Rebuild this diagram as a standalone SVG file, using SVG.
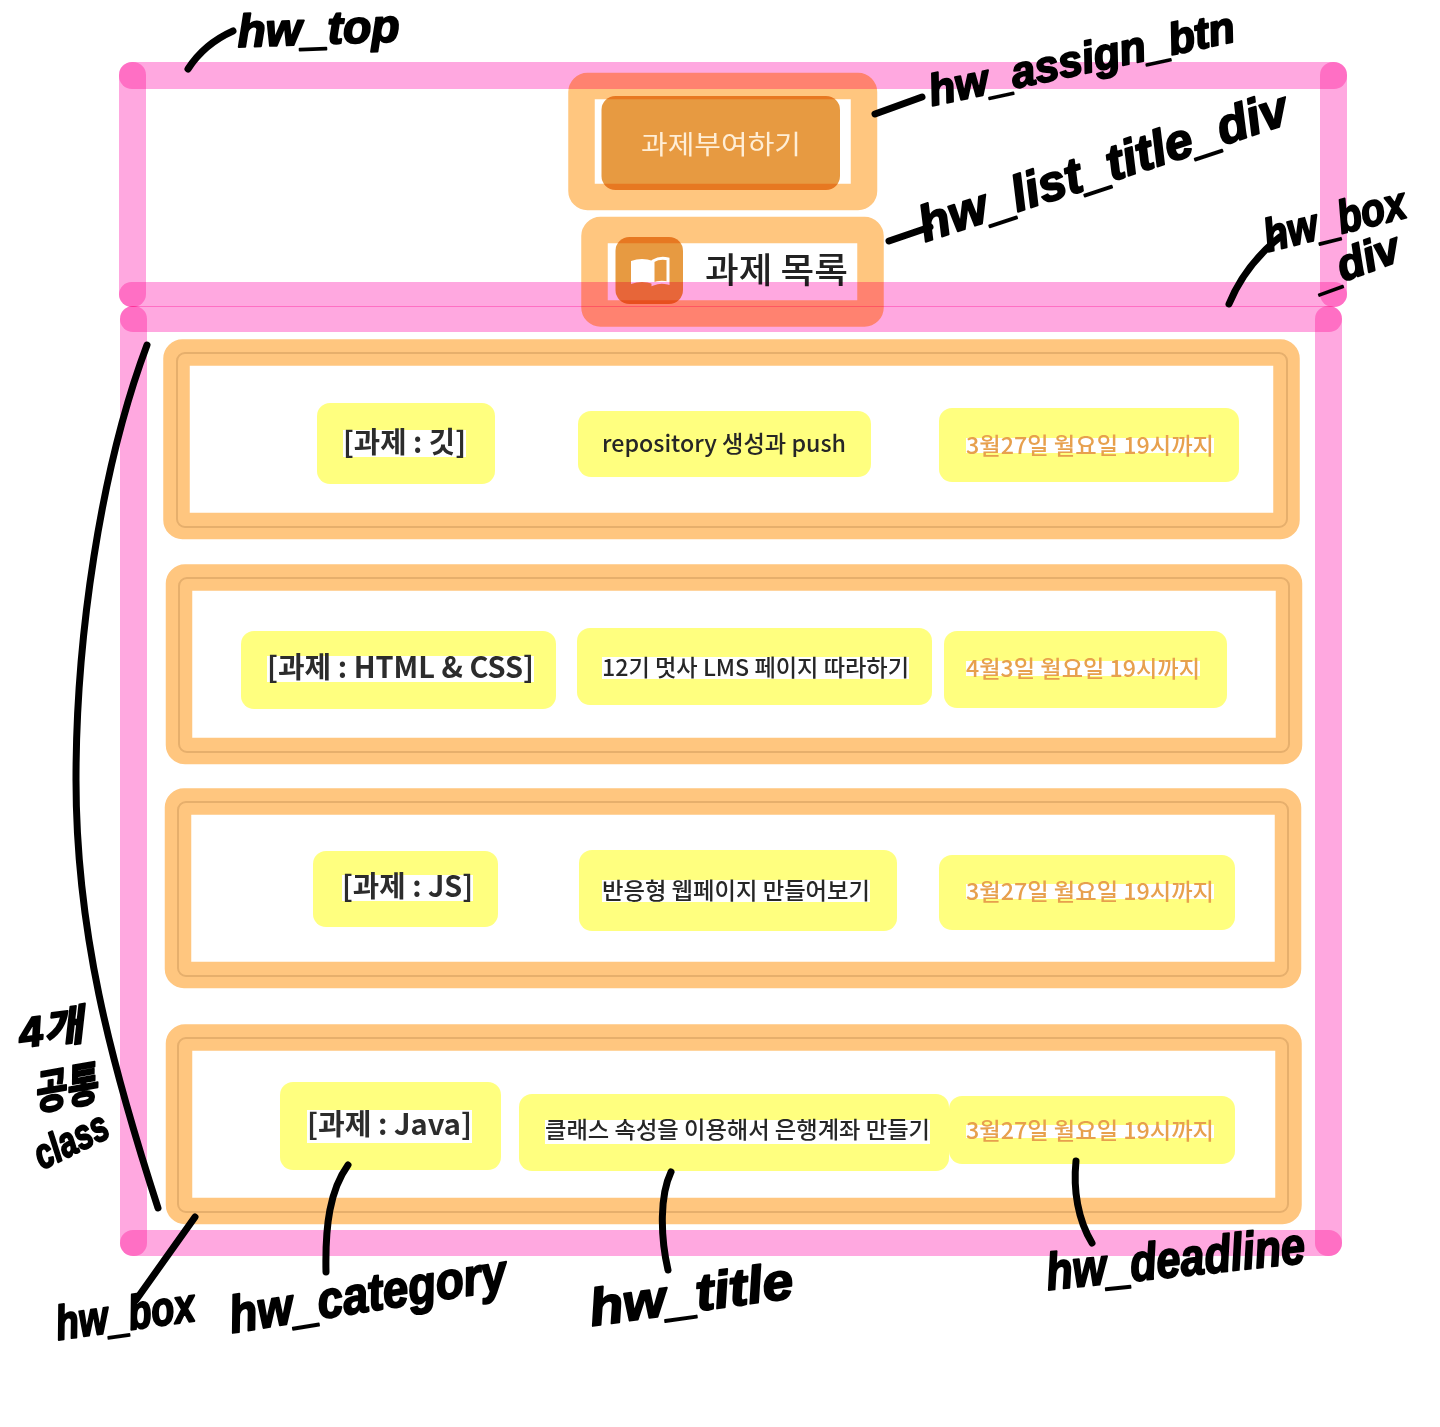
<svg xmlns="http://www.w3.org/2000/svg" width="1440" height="1427" viewBox="0 0 1440 1427">
<style>
.pink{fill:#ffa8e0;mix-blend-mode:multiply}
.orange{fill:none;stroke:#ffc67f;stroke-width:26.5;mix-blend-mode:multiply}
.yellow{fill:#ffff7f}
.gap{fill:#fff}
.rule{fill:none;stroke:#e6e1d8;stroke-width:2}
.t{font-family:"Noto Sans CJK KR","Noto Sans",sans-serif}
.cat{font-size:29px;font-weight:700;fill:#2c2c2c}
.ttl{font-size:23px;font-weight:500;fill:#262626}
.due{font-size:23px;font-weight:500;fill:#e7a04d}
.ink{fill:none;stroke:#000;stroke-width:7;stroke-linecap:round;stroke-linejoin:round}
.hand{font-family:"Liberation Sans","Noto Sans CJK KR",sans-serif;font-weight:700;font-style:italic;fill:#000;stroke:#000;stroke-width:2;stroke-linejoin:round}
</style>
<rect id="background" width="1440" height="1427" fill="#fff"/>

<g id="hw_assign_btn">
<rect x="601.5" y="96" width="238.5" height="94" rx="14" fill="#e79a41"/>
<text class="t" x="641" y="154" font-size="26" fill="#ffeed6" textLength="160" lengthAdjust="spacingAndGlyphs">과제부여하기</text>
</g>

<g id="hw_list_title_div">
<rect x="608" y="243" width="249" height="57" fill="#fff"/>
<rect x="615.5" y="237" width="67.5" height="67" rx="14" fill="#e79a41"/>
<path d="M631 261q11-4 22 0v23q-11-4-22 0z" fill="#fff"/>
<path d="M653 261q7-4 15-2v24q-8-2-15 1z" fill="none" stroke="#fff" stroke-width="3"/>
<text class="t" x="705" y="283" font-size="35" font-weight="500" fill="#222" textLength="143" lengthAdjust="spacingAndGlyphs">과제 목록</text>
</g>

<g id="hw_box_1">
<rect class="rule" x="177" y="353" width="1110" height="174" rx="8"/>
<rect class="yellow" x="317" y="403" width="178" height="81" rx="13"/>
<rect class="gap" x="343" y="430" width="123" height="27"/>
<text class="t cat" x="343" y="453" textLength="123" lengthAdjust="spacingAndGlyphs">[과제 : 깃]</text>
<rect class="yellow" x="578" y="411" width="293" height="66" rx="13"/>
<text class="t ttl" x="602" y="452" textLength="244" lengthAdjust="spacingAndGlyphs">repository 생성과 push</text>
<rect class="yellow" x="939" y="408" width="300" height="74" rx="13"/>
<rect class="gap" x="966" y="438" width="248" height="15"/>
<text class="t due" x="966" y="454" textLength="248" lengthAdjust="spacingAndGlyphs">3월27일 월요일 19시까지</text>
</g>
<g id="hw_box_2">
<rect class="rule" x="179" y="578" width="1110" height="174" rx="8"/>
<rect class="yellow" x="241" y="631" width="315" height="78" rx="13"/>
<rect class="gap" x="267" y="656" width="267" height="26"/>
<text class="t cat" x="267" y="678" textLength="267" lengthAdjust="spacingAndGlyphs">[과제 : HTML &amp; CSS]</text>
<rect class="yellow" x="577" y="628" width="355" height="77" rx="13"/>
<rect class="gap" x="602" y="657" width="307" height="22"/>
<text class="t ttl" x="602" y="676" textLength="307" lengthAdjust="spacingAndGlyphs">12기 멋사 LMS 페이지 따라하기</text>
<rect class="yellow" x="944" y="631" width="283" height="77" rx="13"/>
<rect class="gap" x="966" y="661" width="234" height="15"/>
<text class="t due" x="966" y="677" textLength="234" lengthAdjust="spacingAndGlyphs">4월3일 월요일 19시까지</text>
</g>
<g id="hw_box_3">
<rect class="rule" x="178" y="802" width="1110" height="174" rx="8"/>
<rect class="yellow" x="313" y="851" width="185" height="76" rx="13"/>
<rect class="gap" x="342" y="875" width="131" height="26"/>
<text class="t cat" x="342" y="897" textLength="131" lengthAdjust="spacingAndGlyphs">[과제 : JS]</text>
<rect class="yellow" x="579" y="850" width="318" height="81" rx="13"/>
<rect class="gap" x="602" y="880" width="268" height="22"/>
<text class="t ttl" x="602" y="899" textLength="268" lengthAdjust="spacingAndGlyphs">반응형 웹페이지 만들어보기</text>
<rect class="yellow" x="939" y="855" width="296" height="75" rx="13"/>
<rect class="gap" x="966" y="884" width="248" height="15"/>
<text class="t due" x="966" y="900" textLength="248" lengthAdjust="spacingAndGlyphs">3월27일 월요일 19시까지</text>
</g>
<g id="hw_box_4">
<rect class="rule" x="178" y="1038" width="1110" height="174" rx="8"/>
<rect class="yellow" x="280" y="1082" width="221" height="88" rx="13"/>
<rect class="gap" x="307" y="1110" width="165" height="33"/>
<text class="t cat" x="307" y="1135" textLength="165" lengthAdjust="spacingAndGlyphs">[과제 : Java]</text>
<rect class="yellow" x="519" y="1094" width="430" height="77" rx="13"/>
<rect class="gap" x="545" y="1120" width="385" height="24"/>
<text class="t ttl" x="545" y="1138" textLength="385" lengthAdjust="spacingAndGlyphs">클래스 속성을 이용해서 은행계좌 만들기</text>
<rect class="yellow" x="949" y="1096" width="286" height="68" rx="13"/>
<rect class="gap" x="966" y="1125" width="248" height="13"/>
<text class="t due" x="966" y="1139" textLength="248" lengthAdjust="spacingAndGlyphs">3월27일 월요일 19시까지</text>
</g>

<g id="highlights-orange">
<rect class="orange" x="581.5" y="86" width="282.5" height="111" rx="6"/>
<rect class="orange" x="594.5" y="230" width="276" height="83.5" rx="6"/>
<rect class="orange" x="176.5" y="352.5" width="1110" height="173.5" rx="6"/>
<rect class="orange" x="179" y="577.5" width="1110" height="173.5" rx="6"/>
<rect class="orange" x="178" y="801.5" width="1110" height="173.5" rx="6"/>
<rect class="orange" x="179" y="1037.5" width="1109.5" height="173.5" rx="6"/>
</g>

<g id="hw_top">
<rect class="pink" x="119" y="62" width="1228" height="27" rx="13"/>
<rect class="pink" x="119" y="282" width="1228" height="25" rx="12.5"/>
<rect class="pink" x="119" y="62" width="27" height="245" rx="13"/>
<rect class="pink" x="1320" y="62" width="27" height="245" rx="13"/>
</g>
<g id="hw_box_div">
<rect class="pink" x="120" y="306" width="1222" height="26" rx="13"/>
<rect class="pink" x="120" y="1230" width="1222" height="26" rx="13"/>
<rect class="pink" x="120" y="306" width="27" height="950" rx="13"/>
<rect class="pink" x="1315" y="306" width="27" height="950" rx="13"/>
</g>

<g id="connectors">
<path class="ink" d="M188 69Q204 44 233 31"/>
<path class="ink" d="M875 114L922 97"/>
<path class="ink" d="M889 241L930 227"/>
<path class="ink" d="M1229 304Q1245 265 1280 237"/>
<path class="ink" d="M147 345C100 470 76 640 76 780C76 930 110 1060 158 1208"/>
<path class="ink" d="M195 1217L136 1300"/>
<path class="ink" d="M348 1165C330 1190 325 1225 326 1272"/>
<path class="ink" d="M671 1172C660 1195 660 1235 668 1270"/>
<path class="ink" d="M1076 1161C1073 1190 1078 1220 1092 1243"/>
</g>

<g id="labels">
<text class="hand" font-size="46" transform="translate(238 47) rotate(-2)" textLength="162" lengthAdjust="spacingAndGlyphs">hw_top</text>
<text class="hand" font-size="44" transform="translate(932 106) rotate(-12)" textLength="312" lengthAdjust="spacingAndGlyphs">hw_assign_btn</text>
<text class="hand" font-size="50" transform="translate(925 242) rotate(-18)" textLength="385" lengthAdjust="spacingAndGlyphs">hw_list_title_div</text>
<text class="hand" font-size="46" transform="translate(1268 252) rotate(-14)" textLength="145" lengthAdjust="spacingAndGlyphs">hw_box</text>
<text class="hand" font-size="44" transform="translate(1320 290) rotate(-20)" textLength="88" lengthAdjust="spacingAndGlyphs">_div</text>
<text class="hand" font-size="48" transform="translate(58 1340) rotate(-8)" textLength="140" lengthAdjust="spacingAndGlyphs">hw_box</text>
<text class="hand" font-size="52" transform="translate(232 1333) rotate(-9)" textLength="280" lengthAdjust="spacingAndGlyphs">hw_category</text>
<text class="hand" font-size="52" transform="translate(592 1326) rotate(-8)" textLength="205" lengthAdjust="spacingAndGlyphs">hw_title</text>
<text class="hand" font-size="52" transform="translate(1048 1290) rotate(-6)" textLength="260" lengthAdjust="spacingAndGlyphs">hw_deadline</text>
<text class="hand" font-size="42" transform="translate(21 1048) rotate(-8)" textLength="64" lengthAdjust="spacingAndGlyphs">4개</text>
<text class="hand" font-size="46" transform="translate(36 1110) rotate(-10)" textLength="64" lengthAdjust="spacingAndGlyphs">공통</text>
<text class="hand" font-size="42" transform="translate(42 1170) rotate(-26)" textLength="78" lengthAdjust="spacingAndGlyphs">class</text>
</g>
</svg>
